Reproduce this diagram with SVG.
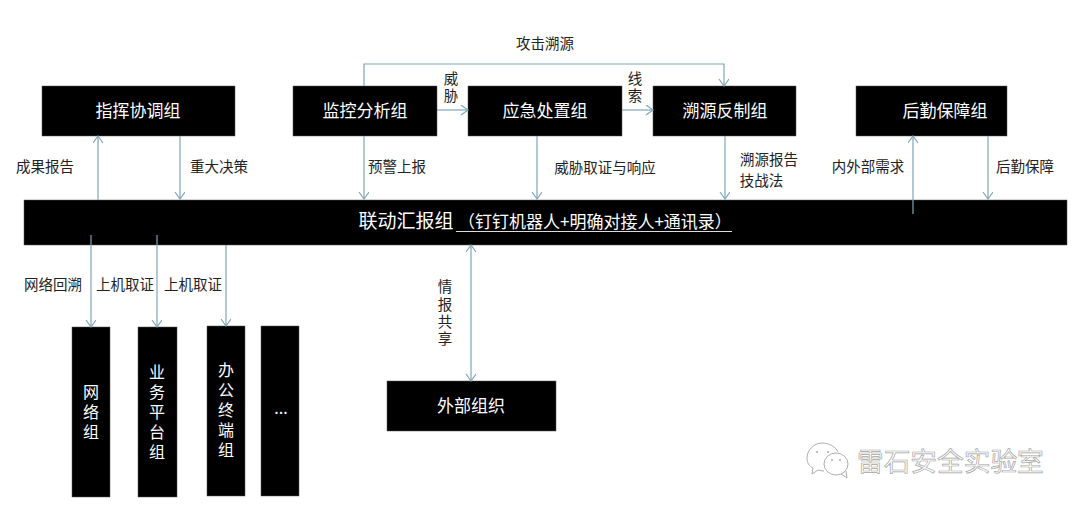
<svg xmlns="http://www.w3.org/2000/svg" width="1080" height="510" viewBox="0 0 1080 510">
<style>
.b{fill:#000;stroke:#555;stroke-width:.5}
.w{fill:#fff;font-family:"Noto Sans CJK SC","Liberation Serif",serif;font-size:17px;text-anchor:middle}
.v{fill:#fff;font-family:"Noto Sans CJK SC","Liberation Serif",serif;font-size:16px;text-anchor:middle;writing-mode:vertical-rl;letter-spacing:4px}
.l{fill:#222;font-family:"Noto Sans CJK SC","Liberation Serif",serif;font-size:14.5px;text-anchor:middle}
.lv{writing-mode:vertical-rl;letter-spacing:2.700px}
.c{fill:none;stroke:#7ea6b8;stroke-width:1.2}
.m{fill:none;stroke:#9a9a9a;stroke-width:.8}
</style>
<defs><marker id="a" markerWidth="12" markerHeight="12" refX="8" refY="5" orient="auto-start-reverse" markerUnits="userSpaceOnUse"><path d="M1 0L8 5L1 10" fill="none" stroke="#7ea6b8" stroke-width="1.2"/></marker></defs>
<rect width="1080" height="510" fill="#fff"/>
<g id="n1"><rect class="b" x="42" y="86" width="193" height="50"/><text class="w" x="138" y="117">指挥协调组</text></g>
<g id="n2"><rect class="b" x="293" y="86" width="144" height="50"/><text class="w" x="365" y="117">监控分析组</text></g>
<g id="n3"><rect class="b" x="468" y="86" width="154" height="50"/><text class="w" x="545" y="117">应急处置组</text></g>
<g id="n4"><rect class="b" x="653" y="86" width="143" height="50"/><text class="w" x="725" y="117">溯源反制组</text></g>
<g id="n5"><rect class="b" x="856" y="86" width="151" height="50"/><text class="w" x="945" y="117">后勤保障组</text></g>
<g id="n6"><rect class="b" x="24" y="200" width="1043" height="45"/><text class="w" x="406" y="228" style="font-size:19px">联动汇报组</text><text class="w" x="458" y="228" style="text-anchor:start">（钉钉机器人+明确对接人+通讯录）</text><path d="M456 231.500H732" stroke="#ddd"/></g>
<g id="n7"><rect class="b" x="72" y="327" width="38" height="170"/><text class="v" x="91" y="414">网络组</text></g>
<g id="n8"><rect class="b" x="138" y="327" width="39" height="170"/><text class="v" x="157" y="414">业务平台组</text></g>
<g id="n9"><rect class="b" x="207" y="326" width="38" height="170"/><text class="v" x="226" y="412">办公终端组</text></g>
<g id="n10"><rect class="b" x="261" y="326" width="38" height="170"/><text class="w" x="281" y="414" style="font-size:16px">...</text></g>
<g id="n11"><rect class="b" x="387" y="381" width="169" height="50"/><text class="w" x="471" y="412">外部组织</text></g>
<g id="connectors">
<path class="c" marker-end="url(#a)" d="M98 200V136"/>
<path class="c" marker-end="url(#a)" d="M180 136V199"/>
<path class="c" marker-end="url(#a)" d="M364 86V64H724V86"/>
<path class="c" marker-end="url(#a)" d="M364 136V199"/>
<path class="c" marker-end="url(#a)" d="M437 110H468"/>
<path class="c" marker-end="url(#a)" d="M622 110H653"/>
<path class="c" marker-end="url(#a)" d="M537 136V199"/>
<path class="c" marker-end="url(#a)" d="M725 136V199"/>
<path class="c" marker-end="url(#a)" d="M913 214V136"/>
<path class="c" marker-end="url(#a)" d="M988 136V199"/>
<path class="c" marker-end="url(#a)" d="M91 235V327"/>
<path class="c" marker-end="url(#a)" d="M157 235V327"/>
<path class="c" marker-end="url(#a)" d="M226 245V326"/>
<path class="c" marker-start="url(#a)" marker-end="url(#a)" d="M471 245V381"/>
</g>
<g id="labels">
<text class="l" x="545" y="49">攻击溯源</text>
<text class="l lv" x="451" y="88">威胁</text>
<text class="l lv" x="635" y="88">线索</text>
<text class="l" x="45" y="172">成果报告</text>
<text class="l" x="219" y="172">重大决策</text>
<text class="l" x="397" y="172">预警上报</text>
<text class="l" x="605" y="173">威胁取证与响应</text>
<text class="l" x="769" y="165">溯源报告</text><text class="l" x="761.500" y="186">技战法</text>
<text class="l" x="868" y="172">内外部需求</text>
<text class="l" x="1025" y="172">后勤保障</text>
<text class="l" x="53" y="290">网络回溯</text>
<text class="l" x="125" y="290">上机取证</text>
<text class="l" x="193" y="290">上机取证</text>
<text class="l lv" x="445" y="314">情报共享</text>
</g>
<g id="watermark">
<text x="857" y="471" font-family="Noto Sans CJK SC,sans-serif" font-size="26.700" fill="#fff" stroke="#a5a5a5" stroke-width=".7">雷石安全实验室</text>
<path class="m" d="M822 443c-8 0-15 7-15 15 0 5 2 8 6 10l-1 6 6-4c2 .6 4 1 6 1M838 452c-2-5-9-9-16-9"/>
<ellipse class="m" cx="836" cy="464" rx="12" ry="11"/><path class="m" d="M841 474l6 4-1-7"/>
<circle cx="817" cy="452" r="1" fill="#aaa"/><circle cx="828" cy="452" r="1" fill="#aaa"/><circle cx="832" cy="460" r="1" fill="#aaa"/><circle cx="840" cy="460" r="1" fill="#aaa"/>
</g>
</svg>
